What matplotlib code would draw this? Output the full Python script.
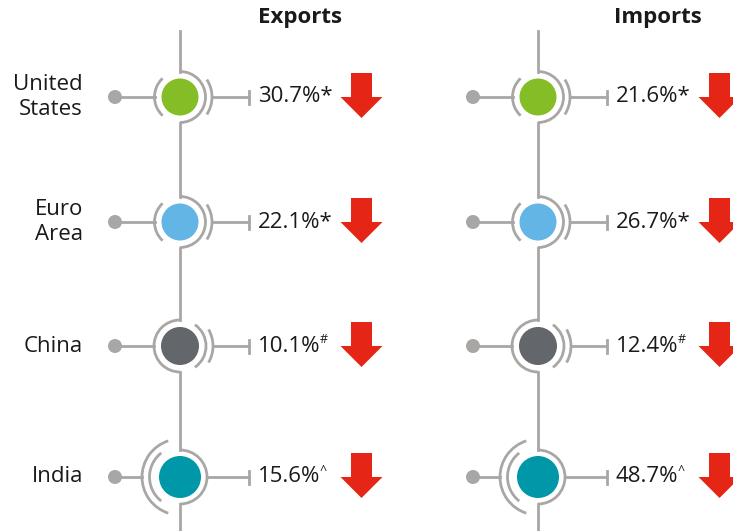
import matplotlib.pyplot as plt
from matplotlib.patches import Arc, Circle, Polygon

plt.rcParams['font.family'] = ['Open Sans', 'DejaVu Sans']

# ----------------------------------------------------------------------
# Data
# ----------------------------------------------------------------------
regions = ["United\nStates", "Euro\nArea", "China", "India"]
exports = [30.7, 22.1, 10.1, 15.6]
imports = [21.6, 26.7, 12.4, 48.7]
export_marks = ["*", "*", "#", "^"]
import_marks = ["*", "*", "#", "^"]
columns = ["Exports", "Imports"]
region_colors = ["#84BD26", "#62B5E5", "#63666A", "#0097A9"]
icon_styles = ["right", "right", "left", "wide"]

GRAY = "#A8A7A5"
RED = "#E52616"
TEXT = "#1A1A1A"
LW = 2.0

row_y = [97, 222, 346, 477]
col_x = [180, 538]

# ring geometry for each style: fill radius, ring radius, list of extra arcs (r, t1, t2)
STYLE = {
    "right": dict(fill=18.5, ring=25.5, half=(-90, 90),
                  arcs=[(25.5, 133, 227), (32, -33, 33)]),
    "left": dict(fill=19, ring=26, half=(90, 270),
                 arcs=[(26, -55, 55), (33, -30, 30)]),
    "wide": dict(fill=21, ring=27, half=(-90, 90),
                 arcs=[(30.5, 128, 232), (38, 108, 252)]),
}


def draw_icon(ax, cx, cy, color, style):
    s = STYLE[style]
    ax.add_patch(Arc((cx, cy), 2 * s["ring"], 2 * s["ring"], theta1=s["half"][0],
                     theta2=s["half"][1], color=GRAY, lw=LW, zorder=3))
    for r, t1, t2 in s["arcs"]:
        ax.add_patch(Arc((cx, cy), 2 * r, 2 * r, theta1=t1, theta2=t2,
                         color=GRAY, lw=LW, zorder=3))
    ax.add_patch(Circle((cx, cy), s["fill"], color=color, zorder=4, lw=0))

    # left connector with dot
    left_r = max([r for r, t1, t2 in s["arcs"] if t1 > 90] +
                 ([s["ring"]] if s["half"][0] == 90 else []))
    ax.plot([cx - 65, cx - left_r], [cy, cy], color=GRAY, lw=LW, zorder=2)
    ax.add_patch(Circle((cx - 65, cy), 7, color=GRAY, zorder=3, lw=0))

    # right connector with end tick
    right_r = max([r for r, t1, t2 in s["arcs"] if t1 < 0] +
                  ([s["ring"]] if s["half"][0] == -90 else []))
    ax.plot([cx + right_r, cx + 69], [cy, cy], color=GRAY, lw=LW, zorder=2)
    ax.plot([cx + 69, cx + 69], [cy - 6.5, cy + 6.5], color=GRAY, lw=LW, zorder=2)


def draw_arrow(ax, x, y):
    pts = [(x - 10.5, y - 24), (x + 10.5, y - 24), (x + 10.5, y),
           (x + 21, y), (x, y + 21), (x - 21, y), (x - 10.5, y)]
    ax.add_patch(Polygon(pts, closed=True, color=RED, lw=0, zorder=4))


fig = plt.figure(figsize=(7.33, 5.31), dpi=100)
ax = fig.add_axes([0, 0, 1, 1])
ax.set_xlim(0, 733)
ax.set_ylim(531, 0)
ax.set_aspect("equal")
ax.axis("off")

for ci, (cx, title) in enumerate(zip(col_x, columns)):
    values = exports if ci == 0 else imports
    marks = export_marks if ci == 0 else import_marks

    ax.text(cx + 120, 17, title, ha="center", va="center", fontsize=16,
            fontweight="bold", color=TEXT)

    # vertical spine, broken at each icon ring
    y_prev = 31
    for cy, style in zip(row_y, icon_styles):
        r = STYLE[style]["ring"]
        ax.plot([cx, cx], [y_prev, cy - r], color=GRAY, lw=LW, zorder=2)
        y_prev = cy + r
    ax.plot([cx, cx], [y_prev, 531], color=GRAY, lw=LW, zorder=2)

    for cy, val, mark, color, style in zip(row_y, values, marks, region_colors, icon_styles):
        draw_icon(ax, cx, cy, color, style)
        if mark == "*":
            ax.text(cx + 78, cy, f"{val:.1f}%*", ha="left", va="center",
                    fontsize=16, color=TEXT)
        else:
            t = ax.text(cx + 78, cy, f"{val:.1f}%", ha="left", va="center",
                        fontsize=16, color=TEXT)
            ax.annotate(mark, xy=(1.0, 0.82), xycoords=t, xytext=(-0.5, 0),
                        textcoords="offset points", ha="left", va="center",
                        fontsize=9, color=TEXT)
        draw_arrow(ax, cx + 181.5, cy)

for cy, name in zip(row_y, regions):
    ax.text(83, cy, name, ha="right", va="center", fontsize=16, color=TEXT,
            linespacing=1.25)

fig.savefig("out.png", dpi=100)
